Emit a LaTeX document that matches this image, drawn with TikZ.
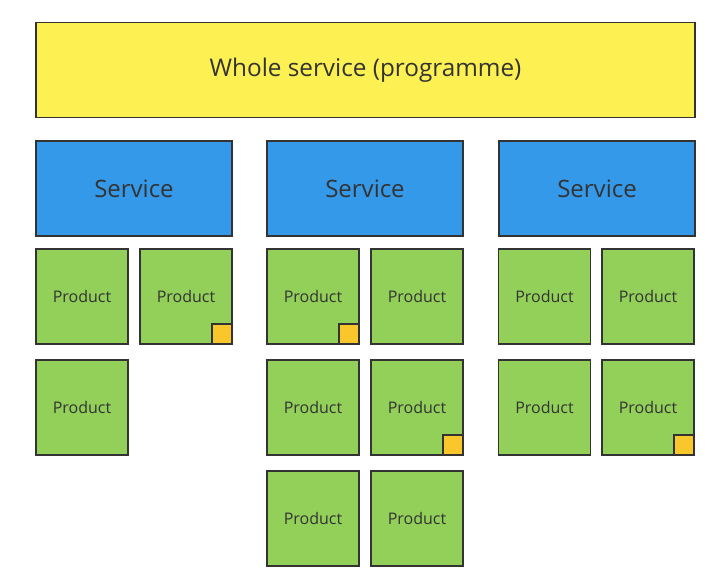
\documentclass[tikz,border=0pt]{standalone}
\usepackage{fontspec}
\setmainfont{Open Sans}
\usetikzlibrary{positioning}
\definecolor{wholefill}{HTML}{FCF053}
\definecolor{servicefill}{HTML}{3599EA}
\definecolor{productfill}{HTML}{92D05A}
\definecolor{tagfill}{HTML}{F9C62B}
\definecolor{edge}{HTML}{333333}
\tikzstyle{whole} = [
    rectangle,
    minimum width=659pt,
    minimum height=95pt,
    fill=wholefill,
    draw=edge,
    line width=1.5pt,
    font=\fontsize{24.3}{28}\selectfont,
    text=edge
]
\tikzstyle{service} = [
    rectangle,
    minimum width=196pt,
    minimum height=95pt,
    fill=servicefill,
    draw=edge,
    line width=1.5pt,
    font=\fontsize{24}{28}\selectfont,
    text=edge
]
\tikzstyle{product} = [
    rectangle,
    minimum width=92pt,
    minimum height=95pt,
    fill=productfill,
    draw=edge,
    line width=1.5pt,
    font=\fontsize{16}{19}\selectfont,
    text=edge
]
\tikzstyle{tag} = [
    rectangle,
    minimum size=20pt,
    inner sep=0pt,
    fill=tagfill,
    draw=edge,
    line width=1.5pt
]

\begin{document}
\begin{tikzpicture}[x=1pt, y=-1pt]
\useasboundingbox (0,0) rectangle (727,572);

\node (whole) [whole] at (365.5,70) {Whole service (programme)};

\node (service1) [service] at (134,188.5) {Service};
\node (service2) [service] at (365,188.5) {Service};
\node (service3) [service] at (597,188.5) {Service};

% first service
\node (p11) [product] at (82,296.5) {Product};
\node (p12) [product] at (186,296.5) {Product};
\node (p13) [product] at (82,407.5) {Product};

% second service
\node (p21) [product] at (313,296.5) {Product};
\node (p22) [product] at (417,296.5) {Product};
\node (p23) [product] at (313,407.5) {Product};
\node (p24) [product] at (417,407.5) {Product};
\node (p25) [product] at (313,518.5) {Product};
\node (p26) [product] at (417,518.5) {Product};

% third service
\node (p31) [product] at (544.5,296.5) {Product};
\node (p32) [product] at (648,296.5) {Product};
\node (p33) [product] at (544.5,407.5) {Product};
\node (p34) [product] at (648,407.5) {Product};

% markers
\node (t12) [tag, anchor=south east] at (p12.south east) {};
\node (t21) [tag, anchor=south east] at (p21.south east) {};
\node (t24) [tag, anchor=south east] at (p24.south east) {};
\node (t34) [tag, anchor=south east] at (p34.south east) {};

\end{tikzpicture}
\end{document}
